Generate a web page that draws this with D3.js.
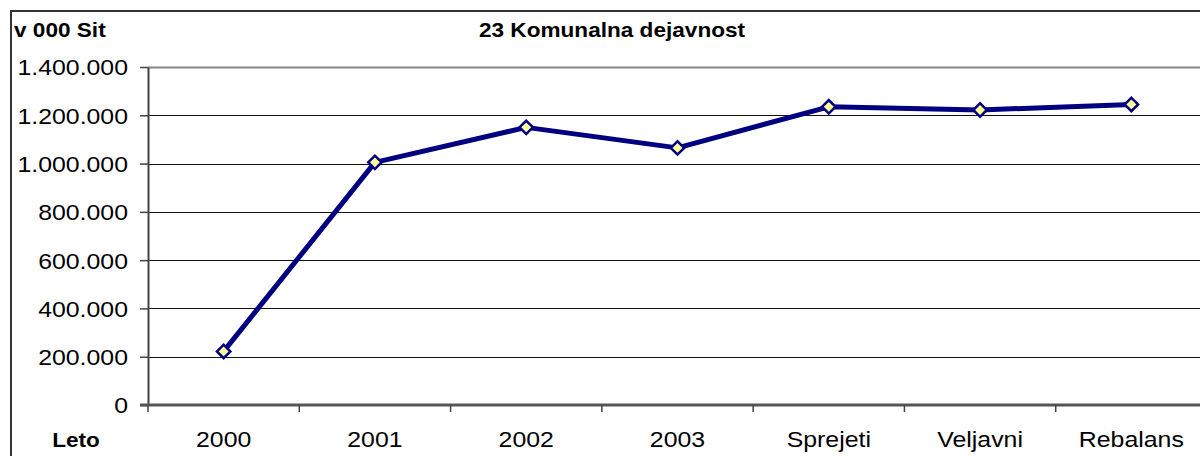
<!DOCTYPE html>
<html>
<head>
<meta charset="utf-8">
<script src="https://cdn.jsdelivr.net/npm/d3@7"></script>
<style>
  body { margin: 0; background: #fff; }
  svg { display: block; font-family: "Liberation Sans", Arial, sans-serif; }
  .tick text { font-size: 22px; fill: #000; }
</style>
</head>
<body>
<svg width="1200" height="456"></svg>
<script>
"use strict";

const title = "23 Komunalna dejavnost";
const unitLabel = "v 000 Sit";
const xAxisLabel = "Leto";

const categories = ["2000", "2001", "2002", "2003", "Sprejeti", "Veljavni", "Rebalans"];
const values = [222000, 1005000, 1150000, 1065000, 1235000, 1222000, 1245000];
const yTicks = [0, 200000, 400000, 600000, 800000, 1000000, 1200000, 1400000];

const svg = d3.select("svg");

const margin = { top: 67, left: 148 };
const innerWidth = 1059;
const innerHeight = 338;
const stretch = 1.13; // text in the original is a bit wide

const fmt = n => d3.format(",")(n).replace(/,/g, ".");

// places a text at x,y, widened a little
const wideText = (sel, x, y) =>
  sel.attr("transform", `translate(${x},${y}) scale(${stretch},1)`);

// outer chart frame
svg.append("rect")
  .attr("x", 11)
  .attr("y", 11)
  .attr("width", 1300)
  .attr("height", 600)
  .attr("fill", "none")
  .attr("stroke", "#333")
  .attr("stroke-width", 2);

const g = svg.append("g")
  .attr("transform", `translate(${margin.left},${margin.top})`);

const xScale = d3.scaleBand()
  .domain(categories)
  .range([0, innerWidth]);

const yScale = d3.scaleLinear()
  .domain([0, 1400000])
  .range([innerHeight, 0]);

// gridlines
g.append("g")
  .selectAll("line")
  .data(yTicks.filter(d => d > 0))
  .enter()
  .append("line")
  .attr("x1", 0)
  .attr("x2", innerWidth)
  .attr("y1", d => Math.round(yScale(d)) + 0.5)
  .attr("y2", d => Math.round(yScale(d)) + 0.5)
  .attr("stroke", d => d === 1400000 ? "#888" : "#111")
  .attr("stroke-width", d => d === 1400000 ? 2 : 1);

const yAxis = d3.axisLeft(yScale)
  .tickValues(yTicks)
  .tickSize(8)
  .tickSizeOuter(0)
  .tickPadding(12)
  .tickFormat(fmt);

const yAxisG = g.append("g").call(yAxis);
yAxisG.select(".domain").attr("stroke", "#444").attr("stroke-width", 2);
yAxisG.selectAll(".tick line").attr("stroke", "#444").attr("stroke-width", 1.5);
yAxisG.selectAll(".tick text")
  .attr("x", null)
  .attr("dy", "0.36em")
  .call(wideText, -20, 0);

// x axis: ticks between categories
const xAxisG = g.append("g")
  .attr("transform", `translate(0,${innerHeight})`);

xAxisG.append("line")
  .attr("x1", -8)
  .attr("x2", innerWidth)
  .attr("stroke", "#555")
  .attr("stroke-width", 3);

xAxisG.selectAll(".xtick")
  .data(categories)
  .enter()
  .append("line")
  .attr("class", "xtick")
  .attr("x1", d => xScale(d))
  .attr("x2", d => xScale(d))
  .attr("y1", 0)
  .attr("y2", 7)
  .attr("stroke", "#444")
  .attr("stroke-width", 1.5);

xAxisG.selectAll(".xlabel")
  .data(categories)
  .enter()
  .append("text")
  .attr("class", "xlabel")
  .attr("transform", d =>
    `translate(${xScale(d) + xScale.bandwidth() / 2},42) scale(${stretch},1)`)
  .attr("text-anchor", "middle")
  .style("font-size", "22px")
  .text(d => d);

// line
const line = d3.line()
  .x((d, i) => xScale(categories[i]) + xScale.bandwidth() / 2)
  .y(d => yScale(d));

g.append("path")
  .datum(values)
  .attr("d", line)
  .attr("fill", "none")
  .attr("stroke", "#000080")
  .attr("stroke-width", 5)
  .attr("stroke-linejoin", "round");

g.selectAll(".marker")
  .data(values)
  .enter()
  .append("path")
  .attr("class", "marker")
  .attr("d", d3.symbol().type(d3.symbolSquare).size(90))
  .attr("transform", (d, i) =>
    `translate(${xScale(categories[i]) + xScale.bandwidth() / 2},${yScale(d)}) rotate(45)`)
  .attr("fill", "#ffff99")
  .attr("stroke", "#000080")
  .attr("stroke-width", 2.5);

// titles
svg.append("text")
  .call(wideText, 612, 37)
  .attr("text-anchor", "middle")
  .style("font-size", "20px")
  .style("font-weight", "bold")
  .text(title);

svg.append("text")
  .call(wideText, 14, 37)
  .style("font-size", "20px")
  .style("font-weight", "bold")
  .text(unitLabel);

svg.append("text")
  .call(wideText, 76, margin.top + innerHeight + 42)
  .attr("text-anchor", "middle")
  .style("font-size", "20px")
  .style("font-weight", "bold")
  .text(xAxisLabel);
</script>
</body>
</html>
